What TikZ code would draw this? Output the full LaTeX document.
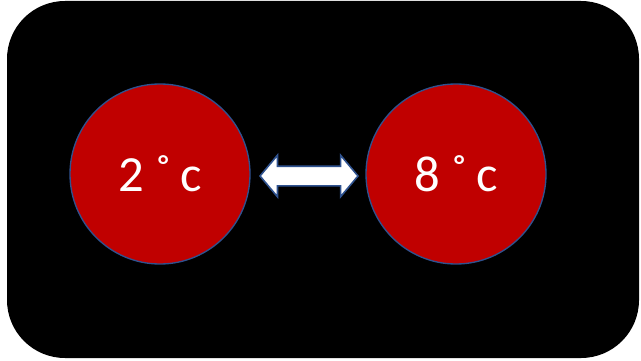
\documentclass[tikz,border=0pt]{standalone}
\usepackage{fontspec}
\setmainfont{Carlito}
\usetikzlibrary{shapes.arrows}
\definecolor{cred}{HTML}{C00000}
\definecolor{cblue}{HTML}{2F528F}
\begin{document}
\begin{tikzpicture}[x=0.75pt,y=-0.75pt,
  ball/.style={circle,fill=cred,draw=cblue,line width=1pt,minimum size=180*0.75pt,inner sep=0pt,text=white,font=\fontsize{38}{38}\selectfont},
  dblarrow/.style={double arrow,fill=white,draw=cblue,line width=1.2pt,minimum height=98*0.75pt,inner xsep=0pt,inner ysep=9*0.75pt,double arrow head extend=11*0.75pt,double arrow tip angle=100}]
\useasboundingbox (0,0) rectangle (641,360);
\fill[black,rounded corners=58*0.75pt] (7,1) rectangle (639,358);
\node[ball] (a) at (160,174) {2 ˚\,c};
\node[ball] (b) at (456,174) {8 ˚\,c};
\node[dblarrow] (arr) at (309,176) {};
\end{tikzpicture}
\end{document}
